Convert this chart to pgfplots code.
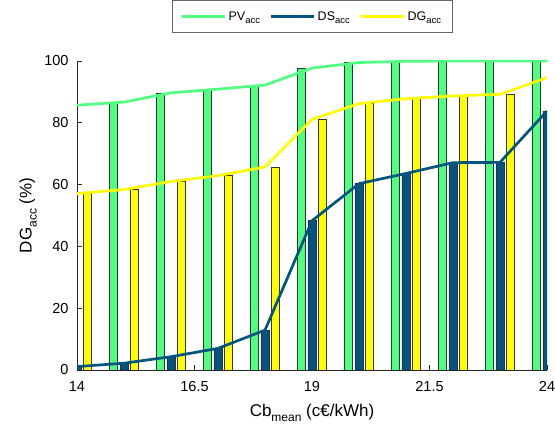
\documentclass[border=0pt]{standalone}
\usepackage{fontspec}
\setmainfont{Liberation Sans}
\usepackage{pgfplots}
\usepackage{pgfplotstable}
\pgfplotsset{compat=1.18}

\definecolor{pvg}{RGB}{80,255,128}
\definecolor{dsb}{RGB}{0,85,128}
\definecolor{dgy}{RGB}{255,255,0}

\newcommand{\lsub}[1]{\raisebox{-5pt}{\fontsize{12}{12}\selectfont #1}}
\newcommand{\gsub}[1]{\raisebox{-3.8pt}{\fontsize{9.5}{9.5}\selectfont #1}}

\pgfplotstableread{
x pv ds dg
14 85.7 1.1 57.1
15 86.7 2.2 58.4
16 89.7 4.3 61.0
17 90.9 7.0 62.9
18 92.2 12.9 65.7
19 97.7 48.3 81.1
20 99.5 60.3 86.2
21 99.9 63.6 87.8
22 100 67.1 88.7
23 100 67.2 89.2
24 100 83.8 94.6
}\datatable

\begin{document}
\begin{tikzpicture}[x=1pt,y=1pt]
\path[use as bounding box] (0,0) rectangle (555,425);
\begin{axis}[
  at={(77pt,55pt)}, anchor=south west,
  scale only axis, width=470pt, height=309pt,
  xmin=14, xmax=24, ymin=0, ymax=100,
  xtick={14,16.5,19,21.5,24}, ytick={0,20,...,100},
  axis x line*=bottom, axis y line*=left,
  axis line style={black!85, line width=0.6pt},
  tick align=inside, major tick length=5pt,
  tick style={black!85, line width=0.6pt},
  /pgf/number format/assume math mode=true,
  tick label style={font=\fontsize{14.5}{16}\selectfont},
  xticklabel style={yshift=-8pt},
  yticklabel style={xshift=-5pt},
  label style={font=\fontsize{17}{18}\selectfont},
  xlabel={Cb\lsub{mean} (c€/kWh)},
  ylabel={DG\lsub{acc} (\%)},
  xlabel style={at={(axis description cs:0.5,-0.152)}, anchor=base},
  ylabel style={at={(axis description cs:-0.1043,0.5)}, anchor=center},
  legend columns=3,
  legend style={at={(axis description cs:0.5,1.0906)}, anchor=south,
    draw=black!60, line width=0.6pt, font=\fontsize{12.5}{13}\selectfont,
    inner xsep=9pt, inner ysep=9pt,
    /tikz/every even column/.append style={column sep=8pt}},
  legend image code/.code={\draw[#1] (0pt,0pt) -- (43pt,0pt);},
]
\addplot[ybar, bar width=8.36pt, bar shift=-10.44pt, fill=pvg, draw=black!80, line width=0.5pt, forget plot] table[x=x,y=pv]{\datatable};
\addplot[ybar, bar width=8.36pt, bar shift=0pt, fill=dsb, draw=black!80, line width=0.5pt, forget plot] table[x=x,y=ds]{\datatable};
\addplot[ybar, bar width=8.36pt, bar shift=10.44pt, fill=dgy, draw=black!80, line width=0.5pt, forget plot] table[x=x,y=dg]{\datatable};
\addplot[pvg, line width=2.7pt] table[x=x,y=pv]{\datatable};
\addlegendentry{PV\gsub{acc}}
\addplot[dsb, line width=2.7pt] table[x=x,y=ds]{\datatable};
\addlegendentry{DS\gsub{acc}}
\addplot[dgy, line width=2.7pt] table[x=x,y=dg]{\datatable};
\addlegendentry{DG\gsub{acc}}
\end{axis}
\end{tikzpicture}
\end{document}
